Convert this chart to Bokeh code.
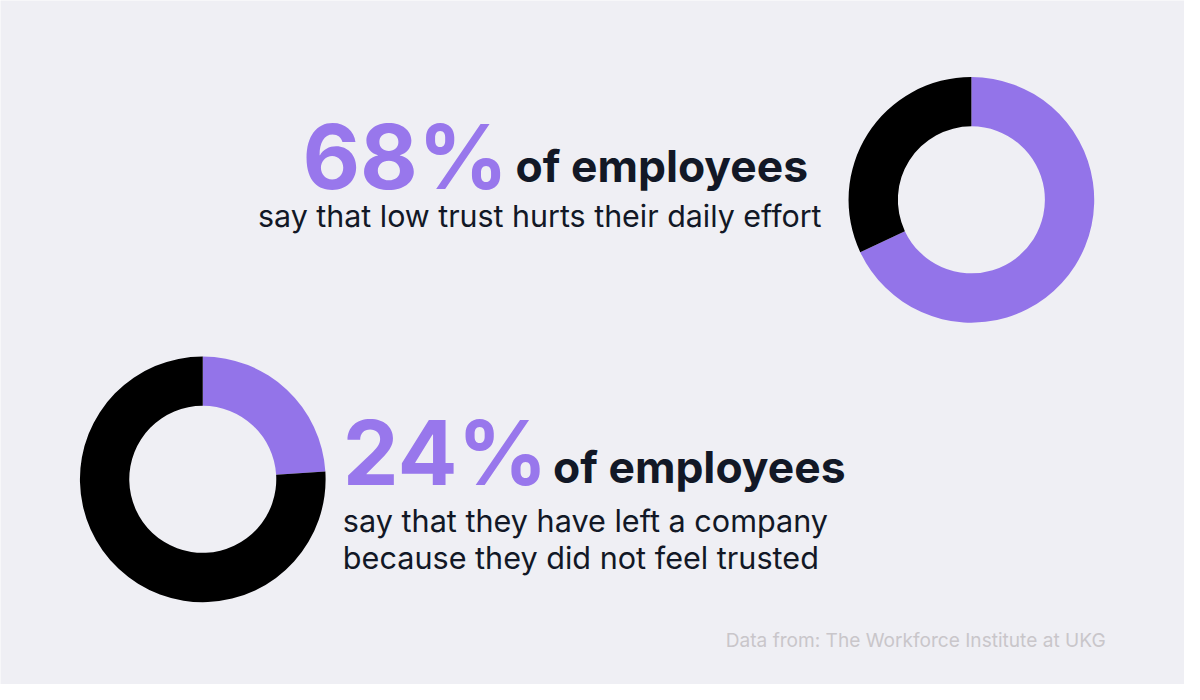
import math
from bokeh.plotting import figure
from bokeh.models import Range1d
from bokeh.core.properties import value
from bokeh.embed import file_html
from bokeh.resources import INLINE

# ---- data ----
percents = [68, 24]
big_labels = ["68%", "24%"]
sub_label = "of employees"
desc_top = ["say that low trust hurts their daily effort"]
desc_bottom = ["say that they have left a company", "because they did not feel trusted"]
source_note = "Data from: The Workforce Institute at UKG"

# ---- style ----
BG = "#EFEFF4"
PURPLE = "#9374E9"
PURPLE_TXT = "#9877EC"
DARK = "#121826"
BLACK = "#000000"
GREY = "#C9C6CA"
FONT = "Inter"

W, H = 1184, 684
REF_W, REF_H = 1200, 700
S = W / REF_W
SY = H / REF_H
BASE_FIX = 0.35  # em offset to bring the rendered baseline to the wanted line

p = figure(width=W, height=H, output_backend="svg", toolbar_location=None,
           x_range=Range1d(0, REF_W), y_range=Range1d(0, REF_H),
           min_border=0)
p.axis.visible = False
p.grid.visible = False
p.outline_line_color = None
p.background_fill_color = BG
p.border_fill_color = BG


def Y(y):
    return REF_H - y


def donut(cx, cy, pct):
    frac = pct / 100.0
    a0 = math.pi / 2
    a1 = a0 - frac * 2 * math.pi
    a2 = a0 - 2 * math.pi
    p.annular_wedge(x=[cx, cx], y=[Y(cy), Y(cy)], inner_radius=74.5, outer_radius=124.5,
                    start_angle=[a0, a1], end_angle=[a1, a2], direction="clock",
                    fill_color=[PURPLE, BLACK], line_color=None)


donut(984, 204, percents[0])
donut(205, 490, percents[1])


def txt(x, y, s, size, color, style="normal", font=FONT):
    px = size * S
    y_adj = y - BASE_FIX * px / SY
    p.text(x=[x], y=[Y(y_adj)], text=[s], text_font=value(font),
           text_font_size=value(f"{px:.1f}px"),
           text_color=color, text_font_style=style, text_baseline="alphabetic", text_align="left")


# top block
txt(306, 191, big_labels[0], 90, PURPLE_TXT, "bold")
txt(522, 185, sub_label, 45, DARK, "bold")
txt(261, 231, desc_top[0], 30.8, DARK)

# bottom block
txt(347, 494, big_labels[1], 90, PURPLE_TXT, "bold")
txt(560, 493, sub_label, 45, DARK, "bold")
txt(347, 543, desc_bottom[0], 31, DARK)
txt(347, 581, desc_bottom[1], 31, DARK)

# source
txt(735, 661, source_note, 19.4, GREY)

open("out.html", "w").write(file_html(p, INLINE))
